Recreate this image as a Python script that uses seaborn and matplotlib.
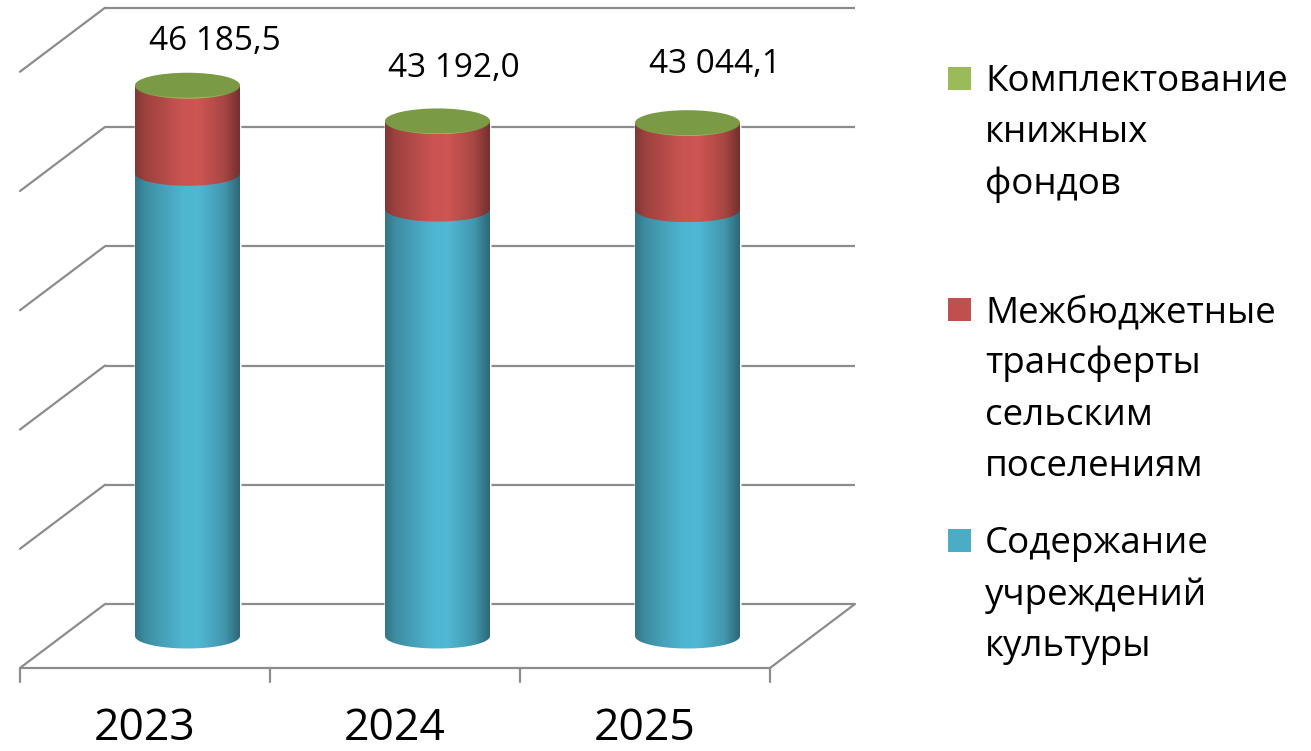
import numpy as np
import matplotlib
matplotlib.use("Agg")
import matplotlib.pyplot as plt
import matplotlib.colors as mcolors
from matplotlib.path import Path
from matplotlib.patches import PathPatch, Ellipse, Rectangle
import pandas as pd
import seaborn as sns

# ---------------- data ----------------
years = ["2023", "2024", "2025"]
culture = [38800.0, 35800.0, 35750.0]     # Содержание учреждений культуры
transfers = [7305.5, 7332.0, 7234.1]      # Межбюджетные трансферты сельским поселениям
books = [80.0, 60.0, 60.0]                # Комплектование книжных фондов
legend_labels = [
    "Комплектование\nкнижных\nфондов",
    "Межбюджетные\nтрансферты\nсельским\nпоселениям",
    "Содержание\nучреждений\nкультуры",
]
grid_values = [0, 10000, 20000, 30000, 40000, 50000]

# ---------------- style ----------------
sns.set_theme(style="white")
plt.rcParams["font.family"] = ["Open Sans", "DejaVu Sans"]

W, H, DPI = 1311, 751, 100
fig = plt.figure(figsize=(W / DPI, H / DPI), dpi=DPI)
ax = fig.add_axes([0, 0, 1, 1])

PX_PER_CAT = 250.0
PX_PER_VAL = 119.25 / 10000.0
X0_PX = 187.5      # centre of first category at mid depth
Y0_PX = 636.0      # zero level at mid depth (pixels from top)


def xd(px):
    return (px - X0_PX) / PX_PER_CAT


def yd(py):
    return (Y0_PX - py) / PX_PER_VAL


def lx(p):
    return p / PX_PER_CAT


def ly(p):
    return p / PX_PER_VAL


C_BLUE, C_RED, C_GREEN, C_TOP = "#4BACC6", "#C0504D", "#9BBB59", "#7A9A45"
GRID_C = "#8C8C8C"

cum1 = np.array(culture)
cum2 = cum1 + np.array(transfers)
cum3 = cum2 + np.array(books)
df = pd.DataFrame({"year": years, "culture": cum1, "transfers": cum2, "books": cum3})

bars = {}
for col, c in [("books", C_GREEN), ("transfers", C_RED), ("culture", C_BLUE)]:
    n0 = len(ax.patches)
    sns.barplot(data=df, x="year", y=col, color=c, width=0.42, errorbar=None,
                saturation=1, ax=ax, zorder=2)
    bars[col] = ax.patches[n0:]

# ---------------- 3D walls ----------------
DX, DY = lx(42.5), ly(32.0)
lw = 1.6
n = len(years)
for v in grid_values:
    ax.plot([-0.5 + DX, n - 0.5 + DX], [v + DY, v + DY], color=GRID_C, lw=lw, zorder=1,
            solid_capstyle="butt")
    ax.plot([-0.5 - DX, -0.5 + DX], [v - DY, v + DY], color=GRID_C, lw=lw, zorder=1)
# floor front + right edge
ax.plot([-0.5 - DX, n - 0.5 - DX], [-DY, -DY], color=GRID_C, lw=lw, zorder=1)
ax.plot([n - 0.5 - DX, n - 0.5 + DX], [-DY, DY], color=GRID_C, lw=lw, zorder=1)
for k in range(n + 1):
    xx = -0.5 - DX + k
    ax.plot([xx, xx], [-DY, -DY - ly(14)], color=GRID_C, lw=lw, zorder=1)

# ---------------- cylinders ----------------
u = np.linspace(0, 1, 300)
prof = np.interp(u, [0, 0.1, 0.45, 0.6, 0.85, 1.0], [0.68, 0.82, 1.05, 1.07, 0.88, 0.60])


def grad(hexc):
    rgb = np.array(mcolors.to_rgb(hexc))
    return np.clip(rgb[None, None, :] * prof[None, :, None], 0, 1)


B = ly(12.5)


def side_path(x0, x1, lo, hi):
    cx, a = (x0 + x1) / 2, (x1 - x0) / 2
    t = np.linspace(np.pi, 2 * np.pi, 80)
    bottom = np.column_stack([cx + a * np.cos(t), lo + B * np.sin(t)])
    verts = np.vstack([[[x0, hi]], bottom, [[x1, hi]], [[x0, hi]]])
    return Path(verts, closed=True)


for i in range(n):
    p = bars["culture"][i]
    x0, w = p.get_x(), p.get_width()
    x1 = x0 + w
    cx = x0 + w / 2
    lo_hi = [(0.0, bars["culture"][i].get_height(), C_BLUE),
             (bars["culture"][i].get_height(), bars["transfers"][i].get_height(), C_RED),
             (bars["transfers"][i].get_height(), bars["books"][i].get_height(), C_GREEN)]
    for k, (lo, hi, c) in enumerate(lo_hi):
        path = side_path(x0, x1, lo, hi)
        clip = PathPatch(path, transform=ax.transData, facecolor="none", edgecolor="none")
        im = ax.imshow(grad(c), extent=(x0, x1, lo - B - 5, hi), aspect="auto",
                       interpolation="bilinear", zorder=3 + k)
        im.set_clip_path(clip)
    top = bars["books"][i].get_height()
    ax.add_patch(Ellipse((cx, top), w, 2 * B, facecolor=C_TOP, edgecolor="none", zorder=7))

# ---------------- labels ----------------
label_nudge_px = [(27, 44), (16, 52), (27, 58)]
for i in range(n):
    tot = bars["books"][i].get_height()
    txt = f"{tot:,.1f}".replace(",", " ").replace(".", ",")
    ax.text(i + lx(label_nudge_px[i][0]), tot + ly(label_nudge_px[i][1]), txt,
            ha="center", va="center", fontsize=24, color="black", zorder=8)
    ax.text(i - DX, yd(729), years[i], ha="center", va="center", fontsize=32,
            color="black", zorder=8)

ax.set_xlim(xd(0), xd(W))
ax.set_ylim(yd(H), yd(0))
ax.axis("off")

# ---------------- legend ----------------
leg_colors = [C_GREEN, C_RED, C_BLUE]
first_baselines = [91, 322, 553]
step = 51.5
for lab, c, yb in zip(legend_labels, leg_colors, first_baselines):
    fig.patches.append(Rectangle((948 / W, 1 - (yb - 1) / H), 23 / W, 23 / H,
                                 transform=fig.transFigure, facecolor=c, edgecolor="none"))
    for j, line in enumerate(lab.split("\n")):
        fig.text(985 / W, 1 - (yb + j * step) / H, line, ha="left", va="baseline",
                 fontsize=26.5, color="black")

fig.savefig("out.png", dpi=DPI)
